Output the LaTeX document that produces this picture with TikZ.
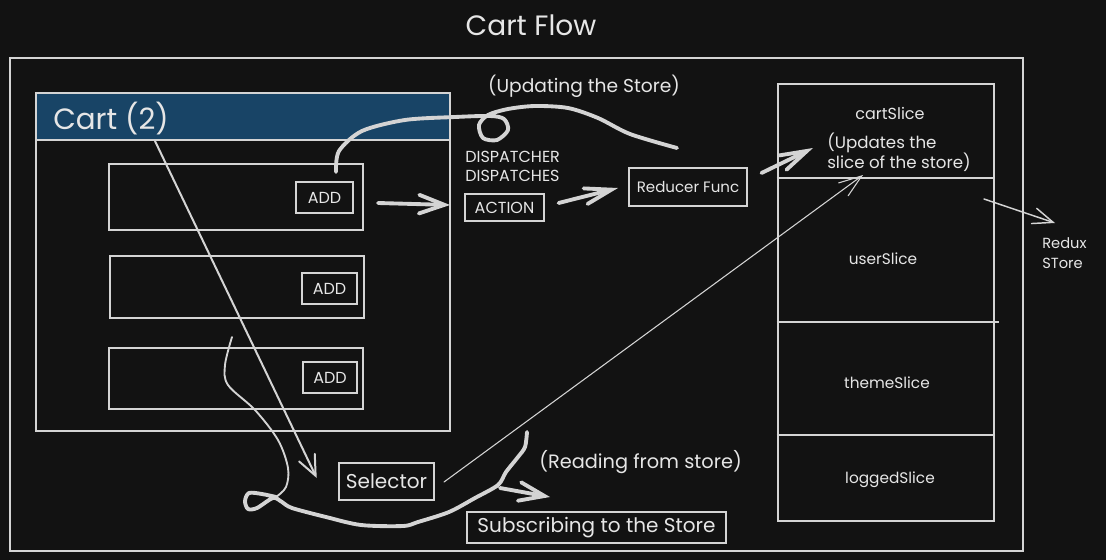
\documentclass[tikz,border=0pt]{standalone}
\usepackage{fontspec}
\setmainfont{Poppins}
\usetikzlibrary{arrows.meta}
\definecolor{bg}{HTML}{121212}
\definecolor{fg}{HTML}{D4D4D4}
\definecolor{tx}{HTML}{E6E6E6}
\definecolor{hdr}{HTML}{184466}
\tikzset{
  bx/.style 2 args={draw=fg, line width=1.1pt, minimum width=#1*0.75pt, minimum height=#2*0.75pt, inner sep=0pt},
  lbl/.style={text=tx, inner sep=0pt},
  thk/.style={draw=fg, line width=2.9pt, line cap=round, line join=round},
  thn/.style={draw=fg, line width=0.8pt, line cap=round, line join=round},
  mid/.style={draw=fg, line width=1.4pt, line cap=round, line join=round},
  barb/.style 2 args={-{Straight Barb[length=#1pt, width=#2pt, line cap=round]}},
}
\begin{document}
\begin{tikzpicture}[x=0.75pt,y=-0.75pt]
\fill[bg] (0,0) rectangle (1106,560);
\useasboundingbox (0,0) rectangle (1106,560);

% title
\node[lbl, font=\fontsize{21}{24}\selectfont] (title) at (531,25) {Cart Flow};

% outer frame
\node[bx={1013}{493}, line width=2.2pt] (frame) at (516.5,304.5) {};

% cart panel
\node[bx={414}{338}] (cart) at (243,262) {};
\node[bx={414}{47}, fill=hdr] (hdr) at (243,116.5) {};
\node[lbl, anchor=west, font=\fontsize{22}{24}\selectfont] (cartlbl) at (53,119) {Cart (2)};

% items
\node[bx={254}{66}] (item1) at (236,197) {};
\node[bx={254}{62}] (item2) at (237,287) {};
\node[bx={254}{61}] (item3) at (236,378.5) {};
\node[bx={57}{31}, font=\fontsize{12}{13}\selectfont, text=tx] (add1) at (324.5,197.5) {ADD};
\node[bx={55}{31}, font=\fontsize{12}{13}\selectfont, text=tx] (add2) at (329.5,288.5) {ADD};
\node[bx={54}{31}, font=\fontsize{12}{13}\selectfont, text=tx] (add3) at (330,377.5) {ADD};

% dispatch
\node[lbl, font=\fontsize{14}{16}\selectfont] (upd) at (584,86) {(Updating the Store)};
\node[lbl, anchor=west, font=\fontsize{12}{13}\selectfont] (disp1) at (465,157) {DISPATCHER};
\node[lbl, anchor=west, font=\fontsize{12}{13}\selectfont] (disp2) at (465,176) {DISPATCHES};
\node[bx={79}{27}, font=\fontsize{12}{13}\selectfont, text=tx] (action) at (504.5,207.5) {ACTION};
\node[bx={118}{38}, font=\fontsize{11.3}{13}\selectfont, text=tx] (reducer) at (688,187) {Reducer Func};

% selector
\node[bx={95}{37}, font=\fontsize{15}{16}\selectfont, text=tx] (selector) at (386.5,481.5) {Selector};
\node[bx={259}{31}, font=\fontsize{15}{16}\selectfont, text=tx] (subs) at (596.5,527.5) {Subscribing to the Store};
\node[lbl, anchor=west, font=\fontsize{14.5}{16}\selectfont] (reading) at (539,462) {(Reading from store)};

% store
\node[bx={216}{437}, line width=2.2pt] (store) at (886,302.5) {};
\draw[draw=fg, line width=1.1pt] (store.west |- 0,178) -- (store.east |- 0,178);
\draw[draw=fg, line width=1.1pt] (store.west |- 0,322) -- (999,322);
\draw[draw=fg, line width=1.1pt] (store.west |- 0,435) -- (store.east |- 0,435);
\node[lbl, font=\fontsize{12}{13}\selectfont] (cartslice) at (890,113) {cartSlice};
\node[lbl, anchor=west, align=left, font=\fontsize{12.5}{15}\selectfont] (updates) at (827,152) {(Updates the\\slice of the store)};
\node[lbl, font=\fontsize{11.5}{13}\selectfont] (userslice) at (883,259) {userSlice};
\node[lbl, font=\fontsize{11.5}{13}\selectfont] (themeslice) at (887,383) {themeSlice};
\node[lbl, font=\fontsize{11.5}{13}\selectfont] (loggedslice) at (890,480) {loggedSlice};
\node[lbl, anchor=west, align=left, font=\fontsize{11}{15}\selectfont] (redux) at (1042,253) {Redux\\STore};

% connector end points
\coordinate (a1s) at (378,203);
\coordinate (a1e) at (450,205);
\coordinate (a2s) at (558.6,203);
\coordinate (a2e) at (618,188);
\coordinate (a3s) at (761.5,173);
\coordinate (a3e) at (813,148);
\coordinate (a4s) at (500,488);
\coordinate (a4e) at (550,497);
\coordinate (cds) at (155,141);
\coordinate (cde) at (316.7,478);
\coordinate (sls) at (444,482);
\coordinate (sle) at (863,175);
\coordinate (rxs) at (984,199);
\coordinate (rxe) at (1055,223);

% arrows
\draw[thk, barb={19}{14}] (a1s) -- (a1e);
\draw[thk, barb={20}{12}] (a2s) -- (a2e);
\draw[thk, barb={20}{12}] (a3s) -- (a3e);
\draw[thk, barb={19}{14}] (a4s) -- (a4e);
\draw[mid, line width=1.5pt, barb={15}{13}] (cds) -- (cde);
\draw[thn, barb={17}{12}] (sls) -- (sle);
\draw[mid, line width=1.1pt, barb={15}{12}] (rxs) -- (rxe);

% freehand strokes
\draw[thk] plot[smooth, tension=0.5] coordinates {(336,172) (339,151) (362,131) (405,120) (455,117) (490,116) (504,119) (508,130) (497,140) (483,138) (479,125) (488,115) (508,109) (535,106) (568,108) (598,118) (630,134) (677,148)};
\draw[mid] plot[smooth, tension=0.55] coordinates {(232,337) (225,365) (228,385) (255,410) (278,440) (288,468) (286,487) (276,497)};
\draw[thk] plot[smooth, tension=0.5] coordinates {(276,497) (262,494) (249,493) (245,501) (248,509) (257,508) (273,498) (282,502) (292,508) (326,517) (361,525) (403,526) (418,522) (449,512) (475,498) (498,485) (506,472) (518,457) (525,447) (527,432)};
\end{tikzpicture}
\end{document}
